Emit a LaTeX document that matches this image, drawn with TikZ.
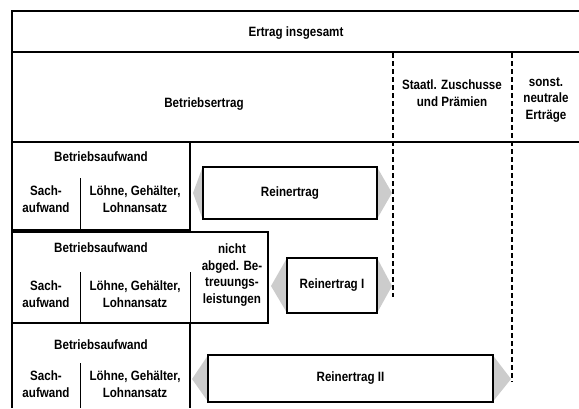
\documentclass[tikz,border=0pt]{standalone}
\usepackage{fontspec}
\setmainfont[FakeStretch=0.86]{Liberation Sans}
\begin{document}
\begin{tikzpicture}[x=1pt,y=-1pt,
  font=\bfseries\fontsize{13.5}{16.5}\selectfont,
  frame/.style={line width=2.2pt},
  boxline/.style={line width=2pt},
  sepline/.style={line width=1pt},
  dashline/.style={line width=1.7pt, dash pattern=on 5pt off 3pt},
  rbox/.style={draw, line width=2.2pt, inner sep=0pt, align=center},
  wedge/.style={fill=gray!40, draw=none},
  txt/.style={align=center, inner sep=0pt}]
\useasboundingbox (0,0) rectangle (579,408);

% frame and main rows
\draw[frame] (579,11) -- (12,11) -- (12,408);
\draw[frame] (12,52) -- (579,52);
\draw[frame] (12,142) -- (579,142);

\node[txt] (ins) at (296,33) {Ertrag insgesamt};
\node[txt] (be) at (204,104) {Betriebsertrag};
\node[txt] (sz) at (452,93) {Staatl. Zuschusse\\und Prämien};
\node[txt] (sn) at (546,100) {sonst.\\neutrale\\Erträge};

% dashed separators
\coordinate (d1t) at (393,53);
\coordinate (d1b) at (393,297);
\coordinate (d2t) at (512,53);
\coordinate (d2b) at (512,382);
\draw[dashline] (d1t) -- (d1b);
\draw[dashline] (d2t) -- (d2b);

% row 1
\draw[boxline] (190,142) -- (190,230) -- (12,230);
\draw[sepline] (80,178) -- (80,230);
\node[txt] (ba1) at (101,157) {Betriebsaufwand};
\node[txt] (sa1) at (46,199) {Sach-\\aufwand};
\node[txt] (lo1) at (135,199) {Löhne, Gehälter,\\Lohnansatz};
\node[rbox, minimum width=174pt, minimum height=52pt] (r0) at (290,193) {Reinertrag};

% row 2
\draw[boxline] (12,232) -- (268,232) -- (268,323) -- (12,323);
\draw[sepline] (80,272) -- (80,323);
\draw[sepline] (190,272) -- (190,323);
\node[txt] (ba2) at (101,248) {Betriebsaufwand};
\node[txt] (ni2) at (232,275) {nicht\\abged. Be-\\treuungs-\\leistungen};
\node[txt] (sa2) at (46,294) {Sach-\\aufwand};
\node[txt] (lo2) at (135,294) {Löhne, Gehälter,\\Lohnansatz};
\node[rbox, minimum width=90pt, minimum height=55pt] (r1) at (332,285.5) {Reinertrag I};

% row 3
\draw[boxline] (190,323) -- (190,408);
\draw[sepline] (80,363) -- (80,408);
\node[txt] (ba3) at (101,345) {Betriebsaufwand};
\node[txt] (sa3) at (46,384) {Sach-\\aufwand};
\node[txt] (lo3) at (135,384) {Löhne, Gehälter,\\Lohnansatz};
\node[rbox, minimum width=285pt, minimum height=47pt] (r2) at (350.5,378.5) {Reinertrag II};

% gray wedges
\coordinate (t0l) at (193,193);
\coordinate (t0r) at (392,193);
\coordinate (t1l) at (271,286);
\coordinate (t1r) at (392,286);
\coordinate (t2l) at (192,379);
\coordinate (t2r) at (511,379);
\fill[wedge] ([yshift=-3pt]r0.north west) -- (t0l) -- ([yshift=3pt]r0.south west) -- cycle;
\fill[wedge] ([yshift=-3pt]r0.north east) -- (t0r) -- ([yshift=3pt]r0.south east) -- cycle;
\fill[wedge] ([yshift=-3pt]r1.north west) -- (t1l) -- ([yshift=3pt]r1.south west) -- cycle;
\fill[wedge] ([yshift=-3pt]r1.north east) -- (t1r) -- ([yshift=3pt]r1.south east) -- cycle;
\fill[wedge] ([yshift=-3pt]r2.north west) -- (t2l) -- ([yshift=3pt]r2.south west) -- cycle;
\fill[wedge] ([yshift=-3pt]r2.north east) -- (t2r) -- ([yshift=3pt]r2.south east) -- cycle;
\end{tikzpicture}
\end{document}
